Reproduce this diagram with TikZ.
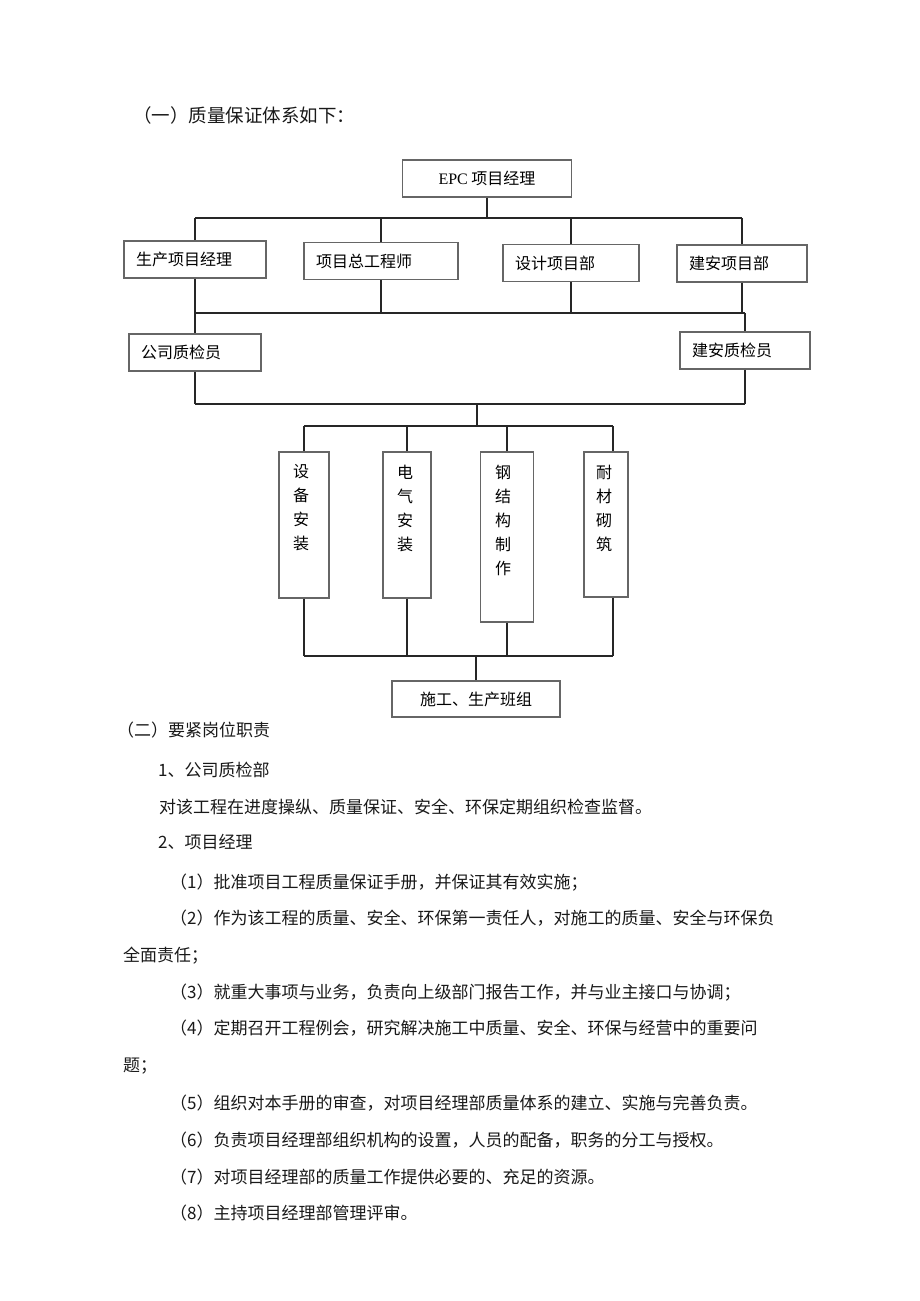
\documentclass[tikz,border=0pt]{standalone}
\usepackage{fontspec}
\setmainfont{Liberation Serif}
\newfontfamily\cjk{Noto Sans CJK SC}
\usepackage{tikz}
\usetikzlibrary{positioning, calc}

\begin{document}
\begin{tikzpicture}[x=1pt, y=-1pt,
	line/.style={draw=black!85, line width=1.4pt},
	box/.style={draw=black!60, line width=1.1pt, minimum height=37pt, inner xsep=12pt,
		text width=#1, align=left, font=\cjk\fontsize{16}{19}\selectfont},
	cbox/.style={draw=black!60, line width=1.1pt, minimum height=37pt, minimum width=#1,
		font=\cjk\fontsize{16}{19}\selectfont},
	vbox/.style={draw=black!60, line width=1.1pt, minimum width=#1},
	vtext/.style={anchor=north, align=center, inner sep=0pt, yshift=-13pt,
		font=\cjk\fontsize{16}{24}\selectfont},
	body/.style={anchor=base west, inner sep=0pt, text=black!90,
		font=\cjk\fontsize{17}{20}\selectfont}]
	\fill[white] (0,0) rectangle (920,1301);
	\useasboundingbox (0,0) rectangle (920,1301);

	% heading
	\node[body, font=\cjk\fontsize{18.5}{22}\selectfont] (title) at (133,122) {（一）质量保证体系如下：};

	% chart boxes
	\node[cbox=169pt] (epc) at (487,178.5) {{\rmfamily EPC} 项目经理};
	\node[box=118pt] (sc) at (195,259.5) {生产项目经理};
	\node[box=130pt] (zg) at (381,261) {项目总工程师};
	\node[box=112pt] (sj) at (571,263) {设计项目部};
	\node[box=106pt] (ja) at (742,263.5) {建安项目部};
	\node[box=108pt] (gs) at (195,352.5) {公司质检员};
	\node[box=106pt] (jz) at (745,350.5) {建安质检员};

	\node[vbox=50pt, minimum height=146pt] (sb) at (304,525) {};
	\node[vbox=48pt, minimum height=146pt] (dq) at (407,525) {};
	\node[vbox=53pt, minimum height=170pt] (gj) at (507,537) {};
	\node[vbox=44pt, minimum height=145pt] (nc) at (606,524.5) {};
	\node[vtext, xshift=-3pt] (sbt) at (sb.north) {设\\备\\安\\装};
	\node[vtext, xshift=-2pt] (dqt) at (dq.north) {电\\气\\安\\装};
	\node[vtext, xshift=-4pt] (gjt) at (gj.north) {钢\\结\\构\\制\\作};
	\node[vtext, xshift=-2pt] (nct) at (nc.north) {耐\\材\\砌\\筑};

	\node[cbox=168pt, minimum height=36pt] (sg) at (476,699) {施工、生产班组};

	% buses
	\coordinate (b1) at (0,218);
	\coordinate (b2) at (0,313);
	\coordinate (b3) at (0,404);
	\coordinate (b4) at (0,426);
	\coordinate (b5) at (0,656);
	\coordinate (m3) at (477,404);
	\coordinate (nctop) at ([xshift=7pt]nc.north);
	\coordinate (ncbot) at ([xshift=7pt]nc.south);

	\draw[line] (epc.south) -- (epc.south |- b1);
	\draw[line] (sc.north |- b1) -- (ja.north |- b1);
	\foreach \n in {sc, zg, sj, ja} {
		\draw[line] (\n.north |- b1) -- (\n.north);
		\draw[line] (\n.south) -- (\n.south |- b2);
	}
	\draw[line] (sc.south |- b2) -- (jz.north |- b2);
	\draw[line] (gs.north |- b2) -- (gs.north);
	\draw[line] (jz.north |- b2) -- (jz.north);
	\draw[line] (gs.south) -- (gs.south |- b3);
	\draw[line] (jz.south) -- (jz.south |- b3);
	\draw[line] (gs.south |- b3) -- (jz.south |- b3);

	\draw[line] (m3) -- (m3 |- b4);
	\draw[line] (sb.north |- b4) -- (nctop |- b4);
	\foreach \n in {sb, dq, gj} {
		\draw[line] (\n.north |- b4) -- (\n.north);
		\draw[line] (\n.south) -- (\n.south |- b5);
	}
	\draw[line] (nctop |- b4) -- (nctop);
	\draw[line] (ncbot) -- (ncbot |- b5);
	\draw[line] (sb.south |- b5) -- (ncbot |- b5);
	\draw[line] (sg.north |- b5) -- (sg.north);

	% duties text
	\node[body] (t0) at (117,736.5) {（二）要紧岗位职责};
	\node[body] (t1) at (158,776.5) {1、公司质检部};
	\node[body] (t2) at (159,813.5) {对该工程在进度操纵、质量保证、安全、环保定期组织检查监督。};
	\node[body] (t3) at (158,848.5) {2、项目经理};
	\node[body] (t4) at (170,888.5) {（1）批准项目工程质量保证手册，并保证其有效实施；};
	\node[body] (t5) at (170,924.5) {（2）作为该工程的质量、安全、环保第一责任人，对施工的质量、安全与环保负};
	\node[body] (t6) at (123,961.5) {全面责任；};
	\node[body] (t7) at (170,998.5) {（3）就重大事项与业务，负责向上级部门报告工作，并与业主接口与协调；};
	\node[body] (t8) at (170,1034.5) {（4）定期召开工程例会，研究解决施工中质量、安全、环保与经营中的重要问};
	\node[body] (t9) at (123,1071.5) {题；};
	\node[body] (t10) at (170,1109.5) {（5）组织对本手册的审查，对项目经理部质量体系的建立、实施与完善负责。};
	\node[body] (t11) at (170,1146.5) {（6）负责项目经理部组织机构的设置，人员的配备，职务的分工与授权。};
	\node[body] (t12) at (170,1183.5) {（7）对项目经理部的质量工作提供必要的、充足的资源。};
	\node[body] (t13) at (170,1219.5) {（8）主持项目经理部管理评审。};
\end{tikzpicture}
\end{document}
